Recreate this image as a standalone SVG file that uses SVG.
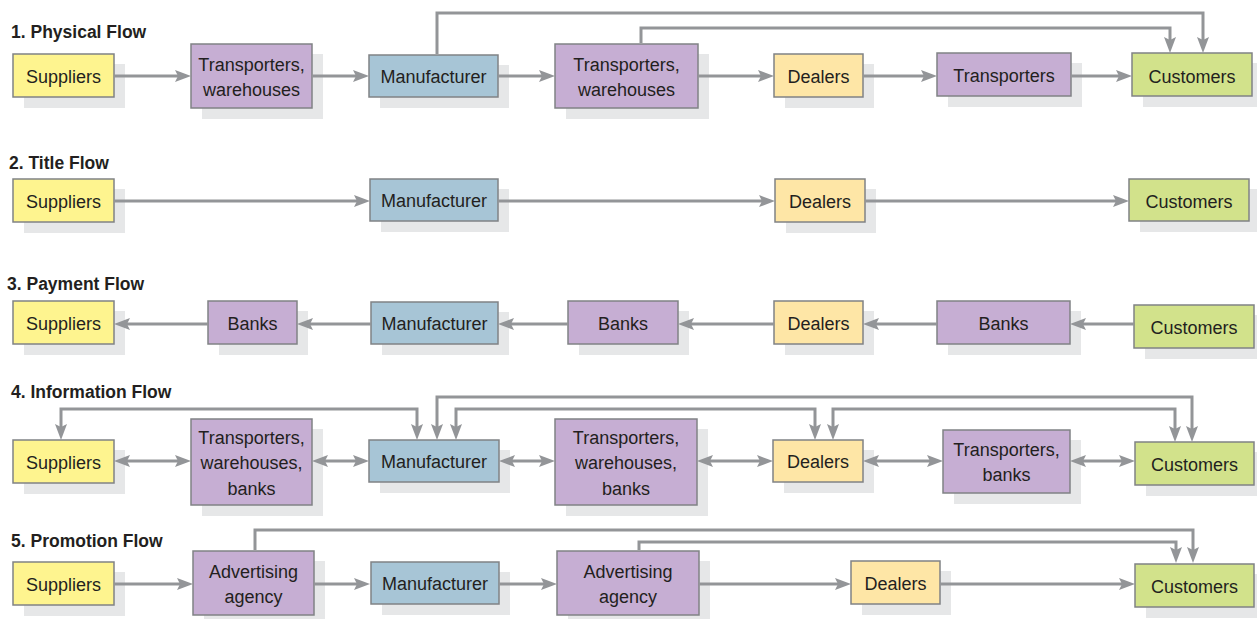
<svg xmlns="http://www.w3.org/2000/svg" width="1257" height="619" viewBox="0 0 1257 619">
<style>
.bg{fill:#ffffff}
.sh{fill:#e6e7e8}
.bx{stroke:#808285;stroke-width:1.5}
.sup{fill:#fef48f}
.tr{fill:#c6aed3}
.mf{fill:#a7c5d6}
.dl{fill:#fee6a6}
.cu{fill:#d2e28b}
.t{font-family:"Liberation Sans",Arial,sans-serif;font-size:18px;fill:#231f20;text-anchor:middle}
.h{font-family:"Liberation Sans",Arial,sans-serif;font-size:17.5px;font-weight:bold;fill:#231f20}
.c{fill:none;stroke:#939598;stroke-width:3}
.a{marker-end:url(#ah)}
.bi{marker-start:url(#ah2);marker-end:url(#ah2)}
</style>
<defs>
<marker id="ah" markerUnits="userSpaceOnUse" markerWidth="18" markerHeight="14" refX="11" refY="6" orient="auto">
<path d="M0,0 L16,6 L0,12 L3,6 z" fill="#939598"/>
</marker>
<marker id="ah2" markerUnits="userSpaceOnUse" markerWidth="18" markerHeight="14" refX="11" refY="6" orient="auto-start-reverse">
<path d="M0,0 L16,6 L0,12 L3,6 z" fill="#939598"/>
</marker>
</defs>
<rect class="bg" x="0" y="0" width="1257" height="619"/>

<g id="titles">
<text class="h" x="11" y="38">1. Physical Flow</text>
<text class="h" x="9" y="169">2. Title Flow</text>
<text class="h" x="7" y="290">3. Payment Flow</text>
<text class="h" x="11" y="398">4. Information Flow</text>
<text class="h" x="11" y="547">5. Promotion Flow</text>
</g>

<!-- Row 1 -->
<g id="r1-suppliers"><rect class="sh" x="24" y="64" width="101" height="44"/><rect class="bx sup" x="13" y="54" width="101" height="43"/><text class="t" x="63.5" y="82.5">Suppliers</text></g>
<g id="r1-transporters1"><rect class="sh" x="202" y="54" width="121" height="65"/><rect class="bx tr" x="191" y="44" width="121" height="64"/><text class="t" x="251.5" y="70.5">Transporters,</text><text class="t" x="251.5" y="95.5">warehouses</text></g>
<g id="r1-manufacturer"><rect class="sh" x="380" y="65" width="129" height="43"/><rect class="bx mf" x="369" y="55" width="129" height="42"/><text class="t" x="433.5" y="83">Manufacturer</text></g>
<g id="r1-transporters2"><rect class="sh" x="566" y="54" width="143" height="65"/><rect class="bx tr" x="555" y="44" width="143" height="64"/><text class="t" x="626.5" y="70.5">Transporters,</text><text class="t" x="626.5" y="95.5">warehouses</text></g>
<g id="r1-dealers"><rect class="sh" x="785" y="64" width="89" height="44"/><rect class="bx dl" x="774" y="54" width="89" height="43"/><text class="t" x="818.5" y="82.5">Dealers</text></g>
<g id="r1-transporters3"><rect class="sh" x="948" y="63" width="134" height="44"/><rect class="bx tr" x="937" y="53" width="134" height="43"/><text class="t" x="1004" y="82">Transporters</text></g>
<g id="r1-customers"><rect class="sh" x="1143" y="63" width="120" height="44"/><rect class="bx cu" x="1132" y="53" width="120" height="43"/><text class="t" x="1192" y="82.5">Customers</text></g>

<!-- Row 2 -->
<g id="r2-suppliers"><rect class="sh" x="24" y="189" width="101" height="44"/><rect class="bx sup" x="13" y="179" width="101" height="43"/><text class="t" x="63.5" y="207.5">Suppliers</text></g>
<g id="r2-manufacturer"><rect class="sh" x="381" y="189" width="128" height="43"/><rect class="bx mf" x="370" y="179" width="128" height="42"/><text class="t" x="434" y="207">Manufacturer</text></g>
<g id="r2-dealers"><rect class="sh" x="786" y="189" width="90" height="44"/><rect class="bx dl" x="775" y="179" width="90" height="43"/><text class="t" x="820" y="207.5">Dealers</text></g>
<g id="r2-customers"><rect class="sh" x="1140" y="189" width="120" height="43"/><rect class="bx cu" x="1129" y="179" width="120" height="42"/><text class="t" x="1189" y="207.5">Customers</text></g>

<!-- Row 3 -->
<g id="r3-suppliers"><rect class="sh" x="24" y="311" width="101" height="44"/><rect class="bx sup" x="13" y="301" width="101" height="43"/><text class="t" x="63.5" y="329.5">Suppliers</text></g>
<g id="r3-banks1"><rect class="sh" x="219" y="311" width="89" height="44"/><rect class="bx tr" x="208" y="301" width="89" height="43"/><text class="t" x="252.5" y="329.5">Banks</text></g>
<g id="r3-manufacturer"><rect class="sh" x="382" y="312" width="127" height="43"/><rect class="bx mf" x="371" y="302" width="127" height="42"/><text class="t" x="434.5" y="330">Manufacturer</text></g>
<g id="r3-banks2"><rect class="sh" x="579" y="311" width="110" height="44"/><rect class="bx tr" x="568" y="301" width="110" height="43"/><text class="t" x="623" y="329.5">Banks</text></g>
<g id="r3-dealers"><rect class="sh" x="785" y="311" width="89" height="44"/><rect class="bx dl" x="774" y="301" width="89" height="43"/><text class="t" x="818.5" y="329.5">Dealers</text></g>
<g id="r3-banks3"><rect class="sh" x="948" y="311" width="133" height="44"/><rect class="bx tr" x="937" y="301" width="133" height="43"/><text class="t" x="1003.5" y="329.5">Banks</text></g>
<g id="r3-customers"><rect class="sh" x="1145" y="315" width="120" height="44"/><rect class="bx cu" x="1134" y="305" width="120" height="43"/><text class="t" x="1194" y="333.5">Customers</text></g>

<!-- Row 4 -->
<g id="r4-suppliers"><rect class="sh" x="24" y="450" width="101" height="44"/><rect class="bx sup" x="13" y="440" width="101" height="43"/><text class="t" x="63.5" y="468.5">Suppliers</text></g>
<g id="r4-twb1"><rect class="sh" x="202" y="429" width="121" height="87"/><rect class="bx tr" x="191" y="419" width="121" height="86"/><text class="t" x="251.5" y="443.5">Transporters,</text><text class="t" x="251.5" y="469">warehouses,</text><text class="t" x="251.5" y="494.5">banks</text></g>
<g id="r4-manufacturer"><rect class="sh" x="380" y="450" width="130" height="43"/><rect class="bx mf" x="369" y="440" width="130" height="42"/><text class="t" x="434" y="468">Manufacturer</text></g>
<g id="r4-twb2"><rect class="sh" x="566" y="429" width="142" height="87"/><rect class="bx tr" x="555" y="419" width="142" height="86"/><text class="t" x="626" y="443.5">Transporters,</text><text class="t" x="626" y="469">warehouses,</text><text class="t" x="626" y="494.5">banks</text></g>
<g id="r4-dealers"><rect class="sh" x="784" y="450" width="90" height="43"/><rect class="bx dl" x="773" y="440" width="90" height="42"/><text class="t" x="818" y="468">Dealers</text></g>
<g id="r4-tb"><rect class="sh" x="954" y="440" width="127" height="64"/><rect class="bx tr" x="943" y="430" width="127" height="63"/><text class="t" x="1006.5" y="456">Transporters,</text><text class="t" x="1006.5" y="481">banks</text></g>
<g id="r4-customers"><rect class="sh" x="1146" y="452" width="119" height="44"/><rect class="bx cu" x="1135" y="442" width="119" height="43"/><text class="t" x="1194.5" y="470.5">Customers</text></g>

<!-- Row 5 -->
<g id="r5-suppliers"><rect class="sh" x="24" y="572" width="101" height="44"/><rect class="bx sup" x="13" y="562" width="101" height="43"/><text class="t" x="63.5" y="590.5">Suppliers</text></g>
<g id="r5-agency1"><rect class="sh" x="204" y="561" width="121" height="65"/><rect class="bx tr" x="193" y="551" width="121" height="64"/><text class="t" x="253.5" y="577.5">Advertising</text><text class="t" x="253.5" y="602.5">agency</text></g>
<g id="r5-manufacturer"><rect class="sh" x="382" y="572" width="128" height="43"/><rect class="bx mf" x="371" y="562" width="128" height="42"/><text class="t" x="435" y="590">Manufacturer</text></g>
<g id="r5-agency2"><rect class="sh" x="568" y="561" width="142" height="65"/><rect class="bx tr" x="557" y="551" width="142" height="64"/><text class="t" x="628" y="577.5">Advertising</text><text class="t" x="628" y="602.5">agency</text></g>
<g id="r5-dealers"><rect class="sh" x="862" y="571" width="89" height="44"/><rect class="bx dl" x="851" y="561" width="89" height="43"/><text class="t" x="895.5" y="589.5">Dealers</text></g>
<g id="r5-customers"><rect class="sh" x="1146" y="574" width="119" height="44"/><rect class="bx cu" x="1135" y="564" width="119" height="43"/><text class="t" x="1194.5" y="592.5">Customers</text></g>

<g id="connectors">
<!-- row 1 -->
<path class="c a" d="M114,76 H186"/>
<path class="c a" d="M312,76 H364"/>
<path class="c a" d="M498,76 H550"/>
<path class="c a" d="M698,76 H769"/>
<path class="c a" d="M863,76 H932"/>
<path class="c a" d="M1071,76 H1127"/>
<path class="c a" d="M437,54 V13 H1203 V48"/>
<path class="c a" d="M641,43 V28 H1170 V48"/>
<!-- row 2 -->
<path class="c a" d="M114,201 H365"/>
<path class="c a" d="M498,201 H770"/>
<path class="c a" d="M865,201 H1124"/>
<!-- row 3 -->
<path class="c a" d="M208,324 H119"/>
<path class="c a" d="M371,324 H302"/>
<path class="c a" d="M568,324 H503"/>
<path class="c a" d="M774,324 H683"/>
<path class="c a" d="M937,324 H868"/>
<path class="c a" d="M1134,324 H1075"/>
<!-- row 4 -->
<path class="c bi" d="M119,461 H186"/>
<path class="c bi" d="M317,461 H364"/>
<path class="c bi" d="M504,461 H550"/>
<path class="c bi" d="M702,461 H768"/>
<path class="c bi" d="M868,461 H938"/>
<path class="c bi" d="M1075,461 H1130"/>
<path class="c bi" d="M61,435 V409 H417 V435"/>
<path class="c bi" d="M437,435 V397 H1192 V437"/>
<path class="c bi" d="M456,435 V409 H815 V435"/>
<path class="c bi" d="M833,435 V409 H1175 V437"/>
<!-- row 5 -->
<path class="c a" d="M114,584 H188"/>
<path class="c a" d="M314,584 H365"/>
<path class="c a" d="M499,584 H552"/>
<path class="c a" d="M699,584 H846"/>
<path class="c a" d="M940,584 H1130"/>
<path class="c a" d="M255,550 V530 H1193 V558"/>
<path class="c a" d="M639,550 V542 H1176 V558"/>
</g>
</svg>
